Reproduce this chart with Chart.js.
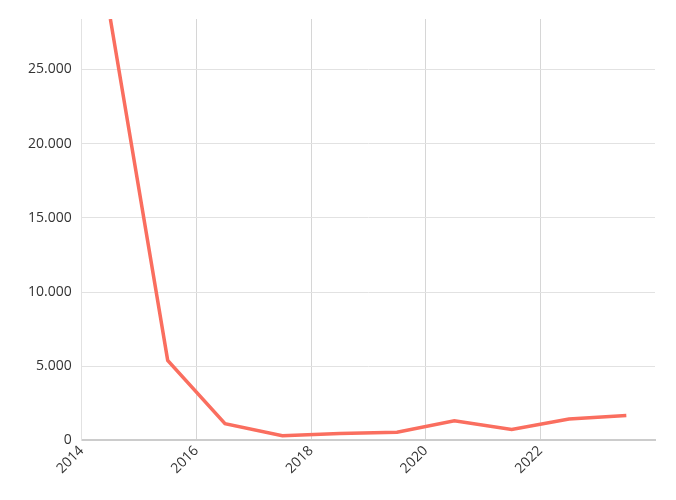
<!DOCTYPE html>
<html>
<head>
<meta charset="utf-8">
<script src="https://cdn.jsdelivr.net/npm/chart.js@4"></script>
<style>
  html, body { margin: 0; padding: 0; background: #fff; }
  #wrap { width: 676px; height: 500px; position: relative; }
</style>
</head>
<body>
<div id="wrap"><canvas id="chart"></canvas></div>
<script>
// data (points sit at mid-year)
const years = [2014.5, 2015.5, 2016.5, 2017.5, 2018.5, 2019.5, 2020.5, 2021.5, 2022.5, 2023.5];
const values = [28400, 5400, 1130, 320, 470, 560, 1330, 740, 1440, 1690];
const xTicks = [2014, 2016, 2018, 2020, 2022];
const yTicks = [0, 5000, 10000, 15000, 20000, 25000];

const fmt = new Intl.NumberFormat('de-DE');

new Chart(document.getElementById('chart'), {
    type: 'line',
    data: {
        datasets: [{
            data: years.map((y, i) => ({ x: y, y: values[i] })),
            borderColor: '#fa6e5f',
            borderWidth: 3.5,
            pointRadius: 0,
            tension: 0
        }]
    },
    options: {
        responsive: true,
        maintainAspectRatio: false,
        animation: false,
        layout: { padding: { top: 19, right: 21, left: 18, bottom: 21 } },
        plugins: { legend: { display: false }, tooltip: { enabled: false } },
        scales: {
            x: {
                type: 'linear',
                min: 2014,
                max: 2024,
                afterBuildTicks: axis => { axis.ticks = xTicks.map(v => ({ value: v })); },
                ticks: {
                    minRotation: 45, maxRotation: 45,
                    color: '#333',
                    font: { family: 'Open Sans', size: 14 },
                    padding: 2,
                    callback: v => String(v)
                },
                grid: { color: '#d6d6d6', drawTicks: false },
                border: { color: '#cccccc', width: 2 }
            },
            y: {
                min: 0,
                max: 28400,
                afterBuildTicks: axis => { axis.ticks = yTicks.map(v => ({ value: v })); },
                ticks: {
                    color: '#333',
                    font: { family: 'Open Sans', size: 14 },
                    padding: 10,
                    callback: v => fmt.format(v)
                },
                grid: { color: '#e2e2e2', drawTicks: false },
                border: { color: '#e2e2e2', width: 1 }
            }
        }
    }
});
</script>
</body>
</html>
